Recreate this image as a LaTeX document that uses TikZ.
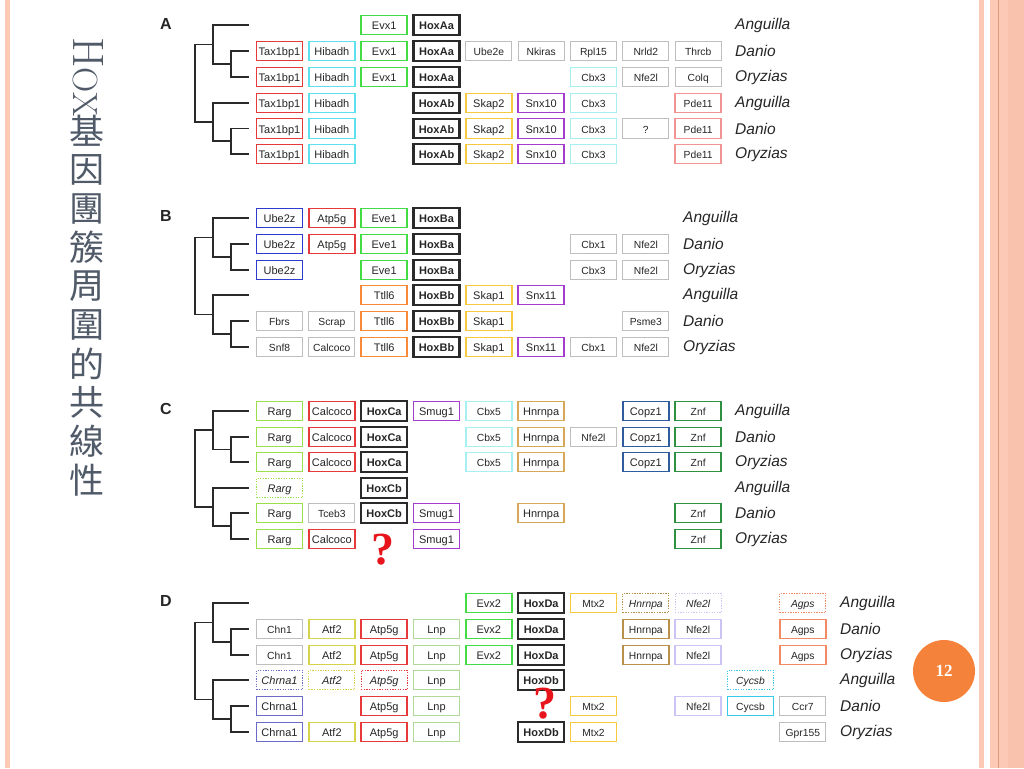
\documentclass[tikz,border=0pt]{standalone}
\usepackage{fontspec}
\newfontfamily\sans{Liberation Sans}
\newfontfamily\serifb{Liberation Serif}
\newfontfamily\cjk{Noto Sans CJK TC}
\definecolor{txt}{HTML}{262626}
\definecolor{redC}{HTML}{E63A3A}
\definecolor{cyanC}{HTML}{5EE0EE}
\definecolor{lcyanC}{HTML}{A6F0F2}
\definecolor{greenC}{HTML}{44DC44}
\definecolor{hoxC}{HTML}{2A2A2A}
\definecolor{grayC}{HTML}{BEBEBE}
\definecolor{yellowC}{HTML}{F5CA40}
\definecolor{purpleC}{HTML}{A43CCC}
\definecolor{pinkC}{HTML}{F09494}
\definecolor{blueC}{HTML}{2E3BCF}
\definecolor{orangeC}{HTML}{F88A3A}
\definecolor{limeC}{HTML}{9BE04C}
\definecolor{tanC}{HTML}{D8A85A}
\definecolor{steelC}{HTML}{2E5C9C}
\definecolor{dgreenC}{HTML}{2E9040}
\definecolor{oliveC}{HTML}{D6D24E}
\definecolor{lnpC}{HTML}{B0D898}
\definecolor{lavC}{HTML}{CCC4F4}
\definecolor{periC}{HTML}{6C6CC8}
\definecolor{coralC}{HTML}{F28A64}
\definecolor{cycC}{HTML}{38C8E8}
\definecolor{hnrC}{HTML}{B8904C}
\definecolor{qred}{HTML}{E8141C}
\definecolor{titleC}{HTML}{505A68}
\definecolor{stripC}{HTML}{FBC9B6}
\definecolor{stripD}{HTML}{F9C2AC}
\definecolor{stripL}{HTML}{E49A7C}
\definecolor{pageC}{HTML}{F4823A}
\tikzset{
  gbox/.style={draw, line width=1.4pt, minimum width=46pt, minimum height=19.5pt,
    inner sep=0pt, text height=10pt, text depth=1pt, text=txt,
    font=\sans\fontsize{11}{11}\selectfont},
  hox/.style={draw=hoxC, line width=2.2pt, font=\sans\bfseries\fontsize{11}{11}\selectfont},
  dotbox/.style={dash pattern=on 1.3pt off 1.3pt, line width=1.2pt,
    font=\sans\itshape\fontsize{11}{11}\selectfont},
  small/.style={font=\sans\fontsize{10.3}{10.3}\selectfont},
  bred/.style={draw=redC}, bcyan/.style={draw=cyanC}, blcyan/.style={draw=lcyanC,small},
  bgreen/.style={draw=greenC}, bgray/.style={draw=grayC,line width=1.2pt,small},
  byellow/.style={draw=yellowC}, bpurple/.style={draw=purpleC}, bpink/.style={draw=pinkC,small},
  bblue/.style={draw=blueC}, borange/.style={draw=orangeC}, blime/.style={draw=limeC},
  btan/.style={draw=tanC}, bsteel/.style={draw=steelC}, bdgreen/.style={draw=dgreenC,small},
  bolive/.style={draw=oliveC}, blnp/.style={draw=lnpC}, blav/.style={draw=lavC,small},
  bperi/.style={draw=periC}, bcoral/.style={draw=coralC,small}, bcyc/.style={draw=cycC,small},
  bhnr/.style={draw=hnrC,small},
  species/.style={anchor=west, inner sep=0pt, text=txt, font=\sans\itshape\fontsize{15.5}{15.5}\selectfont},
  panel/.style={inner sep=0pt, text=txt, font=\sans\bfseries\fontsize{16}{16}\selectfont},
  tree/.style={draw=hoxC, line width=1.8pt, line cap=rect},
  qmark/.style={inner sep=0pt, text=qred, font=\serifb\bfseries\fontsize{46}{46}\selectfont},
  cjkch/.style={inner sep=0pt, text=titleC, font=\cjk\fontsize{35}{35}\selectfont}
}
\newcommand{\gb}[5][]{\node[gbox,#1] (#2) at ({279.5+52.333*(#3-1)},#4) {#5};}
\newcommand{\phylo}[6]{%
  \pgfmathsetmacro\tmA{(#2+#3)/2}\pgfmathsetmacro\tmB{(#5+#6)/2}%
  \pgfmathsetmacro\tuA{(#1+\tmA)/2}\pgfmathsetmacro\tuB{(#4+\tmB)/2}%
  \draw[tree] (248,#1) -- (213,#1) -- (213,\tmA) -- (231,\tmA);
  \draw[tree] (248,#2) -- (231,#2) -- (231,#3) -- (248,#3);
  \draw[tree] (248,#4) -- (213,#4) -- (213,\tmB) -- (231,\tmB);
  \draw[tree] (248,#5) -- (231,#5) -- (231,#6) -- (248,#6);
  \draw[tree] (213,\tuA) -- (195,\tuA) -- (195,\tuB) -- (213,\tuB);
}
\begin{document}
\begin{tikzpicture}[x=1pt,y=-1pt]
\useasboundingbox (0,0) rectangle (1024,768);
\fill[white] (0,0) rectangle (1024,768);
% decorative strips
\fill[stripC] (5,0) rectangle (10,768);
\fill[stripC] (979,0) rectangle (983.5,768);
\fill[stripC] (990,0) rectangle (1024,768);
\fill[stripD] (1008,0) rectangle (1024,768);
\draw[stripL, line width=0.8pt] (998.3,0) -- (998.3,768);
% title
\node[inner sep=0pt, anchor=base west, rotate=-90, text=titleC] (ttlH) at (73,37)
  {{\fontsize{44}{44}\selectfont H}{\fontsize{35}{35}\selectfont OX}};
\foreach \ch [count=\i from 0] in {基,因,團,簇,周,圍,的,共,線,性}{
  \node[cjkch] (tc\i) at (87,{131+38.8*\i}) {\ch};
}
% page number
\node[circle, fill=pageC, minimum size=62pt, inner sep=0pt, text=white,
  font=\serifb\bfseries\fontsize{17}{17}\selectfont] (pg) at (944,671) {12};
% ---------------- Panel A
\node[panel] (lblA) at (166,24) {A};
\phylo{25}{51}{77}{103}{128.5}{154}
\gb[bgreen]{A1c3}{3}{25}{Evx1}
\gb[hox]{A1c4}{4}{25}{HoxAa}
\gb[bred]{A2c1}{1}{51}{Tax1bp1}
\gb[bcyan]{A2c2}{2}{51}{Hibadh}
\gb[bgreen]{A2c3}{3}{51}{Evx1}
\gb[hox]{A2c4}{4}{51}{HoxAa}
\gb[bgray]{A2c5}{5}{51}{Ube2e}
\gb[bgray]{A2c6}{6}{51}{Nkiras}
\gb[bgray]{A2c7}{7}{51}{Rpl15}
\gb[bgray]{A2c8}{8}{51}{Nrld2}
\gb[bgray]{A2c9}{9}{51}{Thrcb}
\gb[bred]{A3c1}{1}{77}{Tax1bp1}
\gb[bcyan]{A3c2}{2}{77}{Hibadh}
\gb[bgreen]{A3c3}{3}{77}{Evx1}
\gb[hox]{A3c4}{4}{77}{HoxAa}
\gb[blcyan]{A3c7}{7}{77}{Cbx3}
\gb[bgray]{A3c8}{8}{77}{Nfe2l}
\gb[bgray]{A3c9}{9}{77}{Colq}
\gb[bred]{A4c1}{1}{103}{Tax1bp1}
\gb[bcyan]{A4c2}{2}{103}{Hibadh}
\gb[hox]{A4c4}{4}{103}{HoxAb}
\gb[byellow]{A4c5}{5}{103}{Skap2}
\gb[bpurple]{A4c6}{6}{103}{Snx10}
\gb[blcyan]{A4c7}{7}{103}{Cbx3}
\gb[bpink]{A4c9}{9}{103}{Pde11}
\gb[bred]{A5c1}{1}{128.5}{Tax1bp1}
\gb[bcyan]{A5c2}{2}{128.5}{Hibadh}
\gb[hox]{A5c4}{4}{128.5}{HoxAb}
\gb[byellow]{A5c5}{5}{128.5}{Skap2}
\gb[bpurple]{A5c6}{6}{128.5}{Snx10}
\gb[blcyan]{A5c7}{7}{128.5}{Cbx3}
\gb[bgray]{A5c8}{8}{128.5}{?}
\gb[bpink]{A5c9}{9}{128.5}{Pde11}
\gb[bred]{A6c1}{1}{154}{Tax1bp1}
\gb[bcyan]{A6c2}{2}{154}{Hibadh}
\gb[hox]{A6c4}{4}{154}{HoxAb}
\gb[byellow]{A6c5}{5}{154}{Skap2}
\gb[bpurple]{A6c6}{6}{154}{Snx10}
\gb[blcyan]{A6c7}{7}{154}{Cbx3}
\gb[bpink]{A6c9}{9}{154}{Pde11}
\node[species] (sA1) at (735,25) {Anguilla};
\node[species] (sA2) at (735,51) {Danio};
\node[species] (sA3) at (735,77) {Oryzias};
\node[species] (sA4) at (735,103) {Anguilla};
\node[species] (sA5) at (735,128.5) {Danio};
\node[species] (sA6) at (735,154) {Oryzias};
% ---------------- Panel B
\node[panel] (lblB) at (166,216) {B};
\phylo{218}{244}{270}{295}{321}{347}
\gb[bblue]{B1c1}{1}{218}{Ube2z}
\gb[bred]{B1c2}{2}{218}{Atp5g}
\gb[bgreen]{B1c3}{3}{218}{Eve1}
\gb[hox]{B1c4}{4}{218}{HoxBa}
\gb[bblue]{B2c1}{1}{244}{Ube2z}
\gb[bred]{B2c2}{2}{244}{Atp5g}
\gb[bgreen]{B2c3}{3}{244}{Eve1}
\gb[hox]{B2c4}{4}{244}{HoxBa}
\gb[bgray]{B2c7}{7}{244}{Cbx1}
\gb[bgray]{B2c8}{8}{244}{Nfe2l}
\gb[bblue]{B3c1}{1}{270}{Ube2z}
\gb[bgreen]{B3c3}{3}{270}{Eve1}
\gb[hox]{B3c4}{4}{270}{HoxBa}
\gb[bgray]{B3c7}{7}{270}{Cbx3}
\gb[bgray]{B3c8}{8}{270}{Nfe2l}
\gb[borange]{B4c3}{3}{295}{Ttll6}
\gb[hox]{B4c4}{4}{295}{HoxBb}
\gb[byellow]{B4c5}{5}{295}{Skap1}
\gb[bpurple]{B4c6}{6}{295}{Snx11}
\gb[bgray]{B5c1}{1}{321}{Fbrs}
\gb[bgray]{B5c2}{2}{321}{Scrap}
\gb[borange]{B5c3}{3}{321}{Ttll6}
\gb[hox]{B5c4}{4}{321}{HoxBb}
\gb[byellow]{B5c5}{5}{321}{Skap1}
\gb[bgray]{B5c8}{8}{321}{Psme3}
\gb[bgray]{B6c1}{1}{347}{Snf8}
\gb[bgray]{B6c2}{2}{347}{Calcoco}
\gb[borange]{B6c3}{3}{347}{Ttll6}
\gb[hox]{B6c4}{4}{347}{HoxBb}
\gb[byellow]{B6c5}{5}{347}{Skap1}
\gb[bpurple]{B6c6}{6}{347}{Snx11}
\gb[bgray]{B6c7}{7}{347}{Cbx1}
\gb[bgray]{B6c8}{8}{347}{Nfe2l}
\node[species] (sB1) at (683,218) {Anguilla};
\node[species] (sB2) at (683,244) {Danio};
\node[species] (sB3) at (683,270) {Oryzias};
\node[species] (sB4) at (683,295) {Anguilla};
\node[species] (sB5) at (683,321) {Danio};
\node[species] (sB6) at (683,347) {Oryzias};
% ---------------- Panel C
\node[panel] (lblC) at (166,409) {C};
\phylo{411}{437}{462}{488}{513}{539}
\gb[blime]{C1c1}{1}{411}{Rarg}
\gb[bred]{C1c2}{2}{411}{Calcoco}
\gb[hox]{C1c3}{3}{411}{HoxCa}
\gb[bpurple]{C1c4}{4}{411}{Smug1}
\gb[blcyan]{C1c5}{5}{411}{Cbx5}
\gb[btan]{C1c6}{6}{411}{Hnrnpa}
\gb[bsteel]{C1c8}{8}{411}{Copz1}
\gb[bdgreen]{C1c9}{9}{411}{Znf}
\gb[blime]{C2c1}{1}{437}{Rarg}
\gb[bred]{C2c2}{2}{437}{Calcoco}
\gb[hox]{C2c3}{3}{437}{HoxCa}
\gb[blcyan]{C2c5}{5}{437}{Cbx5}
\gb[btan]{C2c6}{6}{437}{Hnrnpa}
\gb[bgray]{C2c7}{7}{437}{Nfe2l}
\gb[bsteel]{C2c8}{8}{437}{Copz1}
\gb[bdgreen]{C2c9}{9}{437}{Znf}
\gb[blime]{C3c1}{1}{462}{Rarg}
\gb[bred]{C3c2}{2}{462}{Calcoco}
\gb[hox]{C3c3}{3}{462}{HoxCa}
\gb[blcyan]{C3c5}{5}{462}{Cbx5}
\gb[btan]{C3c6}{6}{462}{Hnrnpa}
\gb[bsteel]{C3c8}{8}{462}{Copz1}
\gb[bdgreen]{C3c9}{9}{462}{Znf}
\gb[blime,dotbox]{C4c1}{1}{488}{Rarg}
\gb[hox]{C4c3}{3}{488}{HoxCb}
\gb[blime]{C5c1}{1}{513}{Rarg}
\gb[bgray]{C5c2}{2}{513}{Tceb3}
\gb[hox]{C5c3}{3}{513}{HoxCb}
\gb[bpurple]{C5c4}{4}{513}{Smug1}
\gb[btan]{C5c6}{6}{513}{Hnrnpa}
\gb[bdgreen]{C5c9}{9}{513}{Znf}
\gb[blime]{C6c1}{1}{539}{Rarg}
\gb[bred]{C6c2}{2}{539}{Calcoco}
\gb[bpurple]{C6c4}{4}{539}{Smug1}
\gb[bdgreen]{C6c9}{9}{539}{Znf}
\node[qmark] (qC) at (383,550) {?};
\node[species] (sC1) at (735,411) {Anguilla};
\node[species] (sC2) at (735,437) {Danio};
\node[species] (sC3) at (735,462) {Oryzias};
\node[species] (sC4) at (735,488) {Anguilla};
\node[species] (sC5) at (735,513) {Danio};
\node[species] (sC6) at (735,539) {Oryzias};
% ---------------- Panel D
\node[panel] (lblD) at (166,601) {D};
\phylo{603}{629}{655}{680}{706}{732}
\gb[bgreen]{D1c5}{5}{603}{Evx2}
\gb[hox]{D1c6}{6}{603}{HoxDa}
\gb[byellow,small]{D1c7}{7}{603}{Mtx2}
\gb[bhnr,dotbox,small]{D1c8}{8}{603}{\itshape Hnrnpa}
\gb[blav,dotbox,small]{D1c9}{9}{603}{\itshape Nfe2l}
\gb[bcoral,dotbox,small]{D1c11}{11}{603}{\itshape Agps}
\gb[bgray]{D2c1}{1}{629}{Chn1}
\gb[bolive]{D2c2}{2}{629}{Atf2}
\gb[bred]{D2c3}{3}{629}{Atp5g}
\gb[blnp]{D2c4}{4}{629}{Lnp}
\gb[bgreen]{D2c5}{5}{629}{Evx2}
\gb[hox]{D2c6}{6}{629}{HoxDa}
\gb[bhnr]{D2c8}{8}{629}{Hnrnpa}
\gb[blav]{D2c9}{9}{629}{Nfe2l}
\gb[bcoral]{D2c11}{11}{629}{Agps}
\gb[bgray]{D3c1}{1}{655}{Chn1}
\gb[bolive]{D3c2}{2}{655}{Atf2}
\gb[bred]{D3c3}{3}{655}{Atp5g}
\gb[blnp]{D3c4}{4}{655}{Lnp}
\gb[bgreen]{D3c5}{5}{655}{Evx2}
\gb[hox]{D3c6}{6}{655}{HoxDa}
\gb[bhnr]{D3c8}{8}{655}{Hnrnpa}
\gb[blav]{D3c9}{9}{655}{Nfe2l}
\gb[bcoral]{D3c11}{11}{655}{Agps}
\gb[bperi,dotbox]{D4c1}{1}{680}{Chrna1}
\gb[bolive,dotbox]{D4c2}{2}{680}{Atf2}
\gb[bred,dotbox]{D4c3}{3}{680}{Atp5g}
\gb[blnp]{D4c4}{4}{680}{Lnp}
\gb[hox]{D4c6}{6}{680}{HoxDb}
\gb[bcyc,dotbox,small]{D4c10}{10}{680}{\itshape Cycsb}
\gb[bperi]{D5c1}{1}{706}{Chrna1}
\gb[bred]{D5c3}{3}{706}{Atp5g}
\gb[blnp]{D5c4}{4}{706}{Lnp}
\gb[byellow,small]{D5c7}{7}{706}{Mtx2}
\gb[blav]{D5c9}{9}{706}{Nfe2l}
\gb[bcyc]{D5c10}{10}{706}{Cycsb}
\gb[bgray]{D5c11}{11}{706}{Ccr7}
\gb[bperi]{D6c1}{1}{732}{Chrna1}
\gb[bolive]{D6c2}{2}{732}{Atf2}
\gb[bred]{D6c3}{3}{732}{Atp5g}
\gb[blnp]{D6c4}{4}{732}{Lnp}
\gb[hox]{D6c6}{6}{732}{HoxDb}
\gb[byellow,small]{D6c7}{7}{732}{Mtx2}
\gb[bgray]{D6c11}{11}{732}{Gpr155}
\node[qmark] (qD) at (545,703.5) {?};
\node[species] (sD1) at (840,603) {Anguilla};
\node[species] (sD2) at (840,629) {Danio};
\node[species] (sD3) at (840,655) {Oryzias};
\node[species] (sD4) at (840,680) {Anguilla};
\node[species] (sD5) at (840,706) {Danio};
\node[species] (sD6) at (840,732) {Oryzias};
\end{tikzpicture}
\end{document}
